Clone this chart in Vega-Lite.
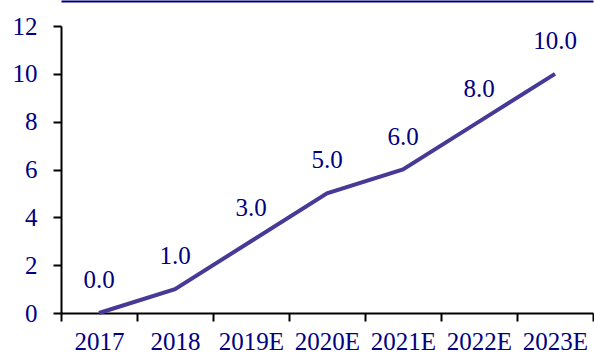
{
  "$schema": "https://vega.github.io/schema/vega-lite/v6.json",
  "width": 532,
  "height": 287,
  "autosize": {"type": "none"},
  "padding": {"left": 61, "top": 26, "right": 1, "bottom": 41},
  "background": "white",
  "config": {
    "view": {"stroke": null},
    "font": "Times New Roman",
    "axis": {"grid": false, "labelFont": "Times New Roman", "labelFontSize": 25, "labelColor": "#000080", "domainColor": "#000000", "domainWidth": 2, "tickColor": "#000000", "tickWidth": 2, "title": null}
  },
  "data": {"values": [
    {"year": "2017", "value": 0.0},
    {"year": "2018", "value": 1.0},
    {"year": "2019E", "value": 3.0},
    {"year": "2020E", "value": 5.0},
    {"year": "2021E", "value": 6.0},
    {"year": "2022E", "value": 8.0},
    {"year": "2023E", "value": 10.0}
  ]},
  "layer": [
    {"mark": {"type": "line", "color": "#463A96", "strokeWidth": 4},
      "encoding": {
        "x": {"field": "year", "type": "ordinal", "sort": null, "scale": {"paddingInner": 0, "paddingOuter": 0},
          "axis": {"labelAngle": 0, "tickBand": "extent", "tickSize": 8, "labelPadding": 8,
            "encode": {"ticks": {"update": {"y2": {"value": -8}}}}}},
        "y": {"field": "value", "type": "quantitative", "scale": {"domain": [0, 12], "nice": false},
          "axis": {"values": [0, 2, 4, 6, 8, 10, 12], "tickSize": 8, "labelPadding": 16,
            "encode": {"ticks": {"update": {"x2": {"value": 8}}}}}}
      }},
    {"mark": {"type": "text", "dy": -33, "fontSize": 25, "color": "#000080", "font": "Times New Roman"},
      "encoding": {
        "x": {"field": "year", "type": "ordinal", "sort": null,
          "axis": {"orient": "top", "offset": 25, "labels": false, "ticks": false, "domainColor": "#000080", "domainWidth": 2}},
        "y": {"field": "value", "type": "quantitative"},
        "text": {"field": "value", "type": "quantitative", "format": ".1f"}
      }}
  ],
  "resolve": {"axis": {"x": "independent"}}
}
